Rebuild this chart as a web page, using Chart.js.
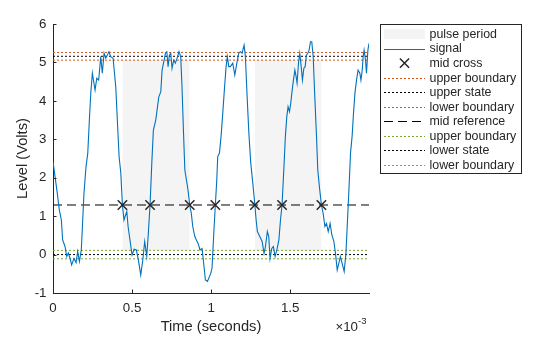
<!DOCTYPE html>
<html><head><meta charset="utf-8">
<script src="https://cdn.jsdelivr.net/npm/chart.js@4/dist/chart.umd.min.js"></script>
<style>html,body{margin:0;padding:0;background:#fff}canvas{display:block}</style>
</head><body>
<canvas id="c" width="560" height="337" style="width:560px;height:337px"></canvas>
<script>
// ---- data (time in ms, i.e. seconds x 10^-3) ----
const timeMs = [0,0.013,0.027,0.040,0.053,0.061,0.076,0.087,0.097,0.108,
0.118,0.133,0.146,0.156,0.167,0.179,0.188,0.196,0.209,0.220,
0.230,0.239,0.249,0.266,0.277,0.289,0.302,0.312,0.323,0.334,
0.344,0.354,0.365,0.380,0.397,0.407,0.418,0.429,0.439,0.449,
0.456,0.467,0.475,0.487,0.500,0.513,0.527,0.540,0.555,0.568,
0.580,0.593,0.603,0.614,0.625,0.635,0.650,0.660,0.669,0.682,
0.690,0.703,0.711,0.720,0.728,0.736,0.745,0.753,0.764,0.774,
0.785,0.797,0.808,0.816,0.825,0.834,0.844,0.854,0.865,0.875,
0.884,0.897,0.907,0.918,0.930,0.943,0.951,0.964,0.977,0.989,
0.998,1.006,1.017,1.027,1.036,1.042,1.053,1.063,1.074,1.084,
1.095,1.103,1.112,1.122,1.137,1.150,1.163,1.175,1.185,1.196,
1.209,1.217,1.228,1.239,1.251,1.264,1.277,1.285,1.293,1.308,
1.323,1.335,1.344,1.356,1.365,1.373,1.384,1.394,1.405,1.416,
1.429,1.439,1.449,1.460,1.470,1.479,1.487,1.496,1.504,1.513,
1.521,1.530,1.538,1.544,1.553,1.561,1.570,1.578,1.587,1.595,
1.603,1.612,1.620,1.629,1.637,1.646,1.656,1.667,1.675,1.685,
1.698,1.709,1.720,1.730,1.741,1.753,1.764,1.777,1.787,1.798,
1.808,1.818,1.829,1.842,1.853,1.863,1.873,1.882,1.892,1.901,
1.910,1.920,1.930,1.941,1.948,1.956,1.962,1.968,1.977,1.983,
1.992,1.999];
const signal = [2.42,2.03,1.60,1.16,0.90,0.38,0.21,-0.05,0.04,-0.10,
-0.27,-0.10,-0.21,0.08,-0.18,0.12,0.90,1.60,2.29,2.64,
3.50,4.20,4.72,4.28,4.59,4.54,5.15,4.72,5.24,5.11,
5.19,5.28,5.15,5.11,4.37,3.50,2.55,2.12,1.29,0.90,
0.99,1.12,0.73,0.38,-0.01,0.14,0.12,-0.14,-0.53,-0.14,
0.34,-0.05,0.55,1.29,2.38,3.24,3.50,3.81,4.10,4.24,
4.80,5.06,5.24,5.28,4.89,5.19,5.24,4.85,5.06,4.98,
5.11,5.28,5.15,4.37,3.24,2.20,1.94,1.68,1.29,1.07,
0.73,0.47,0.38,0.29,0.12,0.16,-0.14,-0.66,-0.70,-0.58,
-0.49,-0.35,0.55,1.29,1.94,2.55,2.64,3.07,3.68,4.28,
4.89,5.15,4.89,4.89,4.98,4.67,4.98,5.24,5.28,5.24,
5.45,5.15,4.11,3.16,2.38,1.86,1.29,0.90,0.60,0.47,
0.34,0.03,0.21,0.60,0.47,-0.10,0.16,0.21,-0.05,0.12,
0.38,0.90,1.29,2.20,3.07,3.59,3.85,3.72,3.94,4.28,
4.54,4.80,4.63,4.46,4.98,5.24,4.89,4.54,4.85,4.89,
5.19,5.24,5.32,5.54,5.54,5.15,4.11,3.07,2.20,1.77,
1.29,1.07,0.73,0.81,0.60,0.81,0.51,0.34,0.03,-0.40,
-0.23,-0.05,-0.23,-0.44,0.03,0.90,1.77,2.64,3.07,3.68,
4.20,4.54,4.80,4.72,4.54,4.80,5.15,5.32,5.06,4.72,
5.32,5.50];
const crossTimeMs = [0.439,0.614,0.865,1.027,1.277,1.449,1.698];
const midReference = 1.29;
const pulseStartMs = [0.439,1.277];
const pulseEndMs = [0.865,1.698];
const upperState = 5.16;
const upperBoundaries = [5.26,5.06];
const lowerState = 0.00;
const lowerBoundaries = [0.11,-0.11];
const xTicks = [0,0.5,1,1.5];
const yTicks = [-1,0,1,2,3,4,5,6];
const xLimits = [0,1.999];
const yLimits = [-1,6];
const legendLabels = ['pulse period','signal','mid cross','upper boundary','upper state','lower boundary','mid reference','upper boundary','lower state','lower boundary'];

// ---- styles ----
const FONT = '"Liberation Sans", Arial, Helvetica, sans-serif';
const AX = '#262626';
const ORANGE = '#D95319', GREEN = '#77AC30', BLUE = '#0072BD', SHADE = '#F4F4F4', BLK = '#000000';
const DOT = [2,2], DASH = [9,5];

const levelLine = (y, color, dash, label) => ({
  label, data: [{x: xLimits[0], y}, {x: xLimits[1], y}],
  borderColor: color, borderWidth: 1, borderDash: dash, pointRadius: 0, fill: false, order: 5
});

const datasets = [
  ...pulseStartMs.map((s, i) => ({
    label: 'pulse period',
    data: [{x: s, y: upperBoundaries[1]}, {x: pulseEndMs[i], y: upperBoundaries[1]}],
    fill: {value: lowerBoundaries[0]}, backgroundColor: SHADE,
    borderColor: 'rgba(0,0,0,0)', borderWidth: 1, pointRadius: 0, order: 20
  })),
  levelLine(upperBoundaries[0], ORANGE, DOT, 'upper boundary'),
  levelLine(upperState, BLK, DOT, 'upper state'),
  levelLine(upperBoundaries[1], ORANGE, DOT, 'lower boundary'),
  levelLine(midReference, BLK, DASH, 'mid reference'),
  levelLine(lowerBoundaries[0], GREEN, DOT, 'upper boundary'),
  levelLine(lowerState, BLK, DOT, 'lower state'),
  levelLine(lowerBoundaries[1], GREEN, DOT, 'lower boundary'),
  {label: 'signal', data: timeMs.map((t, i) => ({x: t, y: signal[i]})),
   borderColor: BLUE, borderWidth: 1.1, pointRadius: 0, fill: false, order: 2},
  {label: 'mid cross', data: crossTimeMs.map(t => ({x: t, y: midReference})),
   showLine: false, pointStyle: 'crossRot', pointRadius: 6.6, pointBorderWidth: 1.5,
   borderColor: AX, pointBorderColor: AX, backgroundColor: AX, order: 1}
];

const legendSamples = [
  {type: 'rect', color: SHADE},
  {type: 'line', color: BLUE, dash: []},
  {type: 'cross', color: AX},
  {type: 'line', color: ORANGE, dash: DOT},
  {type: 'line', color: BLK, dash: DOT},
  {type: 'line', color: ORANGE, dash: DOT},
  {type: 'line', color: BLK, dash: DASH},
  {type: 'line', color: GREEN, dash: DOT},
  {type: 'line', color: BLK, dash: DOT},
  {type: 'line', color: GREEN, dash: DOT}
];

const extras = {
  id: 'extras',
  afterDraw(chart) {
    const ctx = chart.ctx;
    const xs = chart.scales.x, ys = chart.scales.y;
    const a = chart.chartArea;
    ctx.save();
    // inward ticks
    ctx.strokeStyle = AX; ctx.lineWidth = 1; ctx.setLineDash([]);
    ctx.beginPath();
    xs.ticks.forEach(t => {
      const px = Math.round(xs.getPixelForValue(t.value)) + 0.5;
      ctx.moveTo(px, a.bottom); ctx.lineTo(px, a.bottom - 3.5);
    });
    ys.ticks.forEach(t => {
      const py = Math.round(ys.getPixelForValue(t.value)) + 0.5;
      ctx.moveTo(a.left, py); ctx.lineTo(a.left + 3.5, py);
    });
    ctx.stroke();
    // exponent label
    ctx.fillStyle = AX;
    ctx.font = `13.3px ${FONT}`;
    ctx.textBaseline = 'middle'; ctx.textAlign = 'right';
    ctx.fillText('\u00d710', 358, 327);
    ctx.font = `9.5px ${FONT}`; ctx.textAlign = 'left';
    ctx.fillText('-3', 358, 321);
    // legend
    const bx = 380.5, by = 24.5, bw = 141, bh = 149;
    ctx.fillStyle = '#ffffff';
    ctx.fillRect(bx, by, bw, bh);
    ctx.strokeStyle = AX; ctx.lineWidth = 1;
    ctx.strokeRect(bx, by, bw, bh);
    const x0 = 384, x1 = 425, tx = 429.5;
    ctx.font = `12.4px ${FONT}`;
    ctx.textBaseline = 'middle'; ctx.textAlign = 'left';
    legendLabels.forEach((lab, i) => {
      const y = 34 + i * 14.56;
      const s = legendSamples[i];
      if (s.type === 'rect') {
        ctx.fillStyle = s.color; ctx.fillRect(x0, y - 5, x1 - x0, 10);
      } else if (s.type === 'line') {
        ctx.strokeStyle = s.color; ctx.lineWidth = 1; ctx.setLineDash(s.dash);
        ctx.beginPath(); ctx.moveTo(x0, Math.round(y) + 0.5); ctx.lineTo(x1, Math.round(y) + 0.5); ctx.stroke();
        ctx.setLineDash([]);
      } else {
        const cx = (x0 + x1) / 2, r = 4.6;
        ctx.strokeStyle = s.color; ctx.lineWidth = 1.5;
        ctx.beginPath();
        ctx.moveTo(cx - r, y - r); ctx.lineTo(cx + r, y + r);
        ctx.moveTo(cx - r, y + r); ctx.lineTo(cx + r, y - r);
        ctx.stroke();
      }
      ctx.fillStyle = AX;
      ctx.fillText(lab, tx, y + 0.5);
    });
    ctx.restore();
  }
};

new Chart(document.getElementById('c'), {
  type: 'line',
  data: {datasets},
  plugins: [extras],
  options: {
    responsive: false, animation: false, devicePixelRatio: 1,
    layout: {padding: {left: 0, top: 24, right: 191, bottom: 0}},
    plugins: {legend: {display: false}, tooltip: {enabled: false}},
    scales: {
      x: {
        type: 'linear', min: xLimits[0], max: xLimits[1],
        afterBuildTicks: s => { s.ticks = xTicks.map(v => ({value: v})); },
        afterFit: s => { s.height = 44; },
        grid: {display: false, drawTicks: false},
        border: {display: true, color: AX, width: 1},
        ticks: {color: AX, font: {family: FONT, size: 13.3}, padding: 7, maxRotation: 0,
                callback: v => String(Number(v.toFixed(2)))},
        title: {display: true, text: 'Time (seconds)', color: AX,
                font: {family: FONT, size: 14.7}, padding: {top: 0, bottom: 1.5}}
      },
      y: {
        type: 'linear', min: yLimits[0], max: yLimits[1],
        afterBuildTicks: s => { s.ticks = yTicks.map(v => ({value: v})); },
        afterFit: s => { s.width = 53; },
        grid: {display: false, drawTicks: false},
        border: {display: true, color: AX, width: 1},
        ticks: {color: AX, font: {family: FONT, size: 13.3}, padding: 6.5},
        title: {display: true, text: 'Level (Volts)', color: AX,
                font: {family: FONT, size: 14.7}, padding: {top: 14, bottom: 0}}
      }
    }
  }
});
</script>
</body></html>
